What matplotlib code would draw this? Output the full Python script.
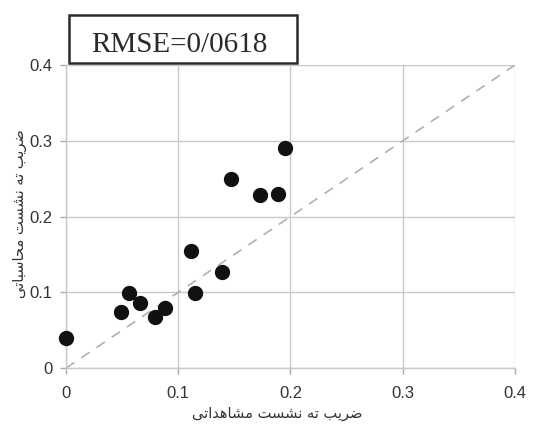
import matplotlib
matplotlib.use("Agg")
import matplotlib.pyplot as plt
from matplotlib.patches import Rectangle

# ---- data ----
observed = [0.000, 0.049, 0.056, 0.066, 0.079, 0.088, 0.111, 0.115, 0.139, 0.147, 0.173, 0.189, 0.195]
computed = [0.040, 0.074, 0.099, 0.086, 0.068, 0.079, 0.155, 0.099, 0.127, 0.249, 0.228, 0.230, 0.291]
ticks = [0, 0.1, 0.2, 0.3, 0.4]
tick_labels = ["0", "0.1", "0.2", "0.3", "0.4"]
xlabel_text = "ضریب ته نشست مشاهداتی"
ylabel_text = "ضریب ته نشست محاسباتی"
rmse_text = "RMSE=0/0618"

# ---- minimal Arabic/Persian shaping (presentation forms), then visual order ----
FORMS = {
    'ض': ('\uFEBD', '\uFEBE', '\uFEBF', '\uFEC0'),
    'ر': ('\uFEAD', '\uFEAE', None, None),
    'ی': ('\uFEEF', '\uFEF0', '\uFEF3', '\uFEF4'),
    'ب': ('\uFE8F', '\uFE90', '\uFE91', '\uFE92'),
    'ت': ('\uFE95', '\uFE96', '\uFE97', '\uFE98'),
    'ه': ('\uFEE9', '\uFEEA', '\uFEEB', '\uFEEC'),
    'ن': ('\uFEE5', '\uFEE6', '\uFEE7', '\uFEE8'),
    'ش': ('\uFEB5', '\uFEB6', '\uFEB7', '\uFEB8'),
    'س': ('\uFEB1', '\uFEB2', '\uFEB3', '\uFEB4'),
    'م': ('\uFEE1', '\uFEE2', '\uFEE3', '\uFEE4'),
    'ح': ('\uFEA1', '\uFEA2', '\uFEA3', '\uFEA4'),
    'ا': ('\uFE8D', '\uFE8E', None, None),
    'د': ('\uFEA9', '\uFEAA', None, None),
}


def joins_left(c):
    return c in FORMS and FORMS[c][2] is not None


def shape(text):
    out = []
    n = len(text)
    for i, c in enumerate(text):
        if c not in FORMS:
            out.append(c)
            continue
        prev_c = text[i - 1] if i > 0 else ''
        next_c = text[i + 1] if i < n - 1 else ''
        jp = joins_left(prev_c)
        jn = joins_left(c) and next_c in FORMS
        iso, fin, ini, med = FORMS[c]
        if jp and jn:
            out.append(med)
        elif jp:
            out.append(fin)
        elif jn:
            out.append(ini)
        else:
            out.append(iso)
    return ''.join(reversed(out))


plt.rcParams['font.family'] = ['Liberation Sans', 'DejaVu Sans']

fig = plt.figure(figsize=(5.33, 4.28), dpi=100)
fig.patch.set_facecolor('white')
ax = fig.add_axes([0.124, 0.140, 0.842, 0.708])

grid_c = '#c9c9c9'
ax.set_xlim(0, 0.4)
ax.set_ylim(0, 0.4)
ax.set_xticks(ticks)
ax.set_yticks(ticks)
ax.set_xticklabels(tick_labels)
ax.set_yticklabels(tick_labels)
ax.grid(True, color=grid_c, linewidth=1.0)
ax.set_axisbelow(True)
for s in ['top', 'right']:
    ax.spines[s].set_visible(False)
for s in ['left', 'bottom']:
    ax.spines[s].set_color(grid_c)
    ax.spines[s].set_linewidth(1.0)
ax.tick_params(axis='both', colors='#aaaaaa', length=4, width=1,
               labelsize=12, labelcolor='#333333')
ax.tick_params(axis='x', pad=9)
ax.tick_params(axis='y', pad=6)

ax.plot([ticks[0], ticks[-1]], [ticks[0], ticks[-1]], linestyle=(0, (6, 5)),
        color='#b0b0b0', linewidth=1.2, zorder=2)
ax.scatter(observed, computed, s=100, color='#111111', zorder=3, clip_on=False)

ax.set_xlabel(shape(xlabel_text), fontsize=10.5, family='DejaVu Sans',
              color='#333333')
ax.set_ylabel(shape(ylabel_text), fontsize=10.5, family='DejaVu Sans',
              color='#333333')
ax.xaxis.set_label_coords(0.47, -0.125)
ax.yaxis.set_label_coords(-0.088, 0.51)

# RMSE box (figure pixel coords -> fraction)
W, H = 533, 428
fig.patches.append(Rectangle((69 / W, 1 - 63 / H), (297 - 69) / W, (63 - 15) / H,
                             transform=fig.transFigure, facecolor='white',
                             edgecolor='#2a2a2a', linewidth=1.8, zorder=5))
fig.text(91 / W, 1 - 52 / H, rmse_text, fontsize=21, family='Liberation Serif',
         color='#2a2a2a', ha='left', va='baseline', zorder=6)

fig.savefig('out.png', dpi=100)
